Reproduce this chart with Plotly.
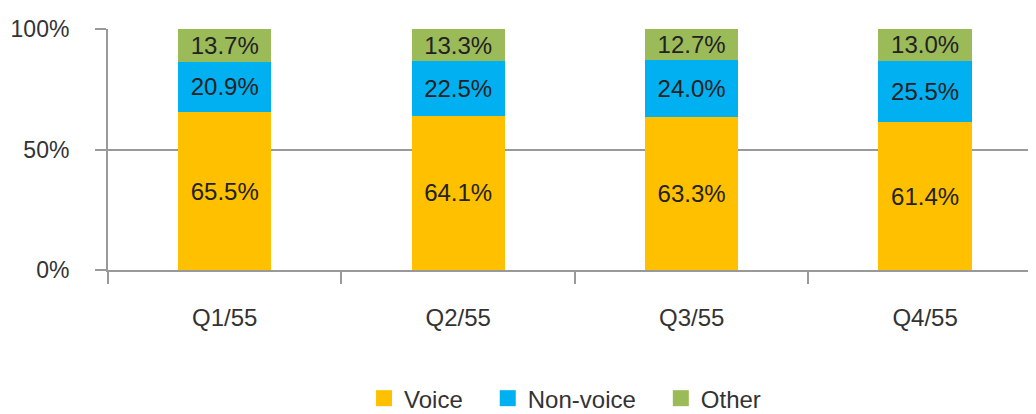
import plotly.graph_objects as go

categories = ["Q1/55", "Q2/55", "Q3/55", "Q4/55"]
voice = [65.5, 64.1, 63.3, 61.4]
non_voice = [20.9, 22.5, 24.0, 25.5]
other = [13.7, 13.3, 12.7, 13.0]

series = [("Voice", voice, "#FFC000"), ("Non-voice", non_voice, "#00B0F0"), ("Other", other, "#9BBB59")]

FONT = "Liberation Sans"
PAD = "\u00a0\u00a0\u00a0"
fig = go.Figure()
for name, vals, col in series:
    fig.add_trace(go.Bar(
        x=categories, y=vals, name=name, marker=dict(color=col, line=dict(width=0)),
        text=[f"{v:.1f}%" for v in vals], textposition="inside", insidetextanchor="middle",
        textangle=0, constraintext="none",
        textfont=dict(size=24, color="#222222", family=FONT),
        width=0.4, showlegend=False, legendgroup=name,
    ))
# legend entries with larger square swatches
for i, (name, vals, col) in enumerate(series):
    fig.add_trace(go.Scatter(
        x=[None], y=[None], mode="markers",
        name=name + (PAD if i < len(series) - 1 else ""), legendgroup=name,
        marker=dict(symbol="square", size=22, color=col), showlegend=True,
    ))

fig.update_layout(
    barmode="stack",
    width=1028, height=406,
    margin=dict(l=100, r=0, t=21, b=144),
    plot_bgcolor="white", paper_bgcolor="white",
    font=dict(family=FONT, color="#333333", size=20),
    showlegend=True,
    legend=dict(orientation="h", x=0.4925, xanchor="center", yref="container",
                y=0.038, yanchor="middle",
                font=dict(size=24, color="#333333"), itemwidth=30, traceorder="normal"),
    xaxis=dict(range=[-0.5, 3.475], tickson="boundaries", ticks="outside", ticklen=12,
               tickcolor="#999999", tickwidth=2, showline=True, linecolor="#999999", linewidth=2,
               showgrid=False, ticklabelstandoff=25, automargin=False,
               tickfont=dict(size=24, color="#333333")),
    yaxis=dict(range=[0, 100], tickvals=[0, 50, 100], ticktext=["0%", "50%", "100%"],
               ticks="outside", ticklen=11, tickcolor="#999999", tickwidth=2,
               showline=True, linecolor="#999999", linewidth=2,
               showgrid=True, gridcolor="#999999", gridwidth=2, zeroline=False,
               ticklabelstandoff=21, automargin=False,
               tickfont=dict(size=23, color="#333333")),
)

fig.write_html("out.html")
